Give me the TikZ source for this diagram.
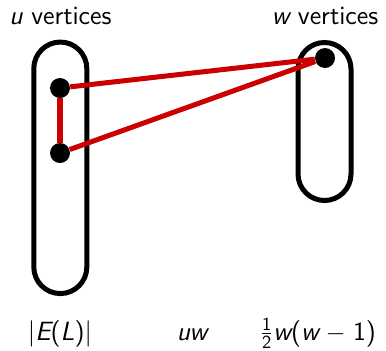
\documentclass[tikz,border=0pt]{standalone}
\usepackage{amsmath}
\usepackage{tikz}
\usetikzlibrary{positioning}
\definecolor{EdgeRed}{RGB}{204,0,0}
\newcommand{\mv}[1]{{\slshape #1}}
\tikzset{
  capsule/.style={draw=black,line width=2.85pt,rectangle,inner sep=0pt,
    minimum width=1.06cm,rounded corners=0.53cm},
  vdot/.style={circle,fill=black,inner sep=0pt,minimum size=0.4cm},
  edge/.style={EdgeRed,line width=2.85pt},
  lbl/.style={anchor=base,font=\sffamily\fontsize{15}{18}\selectfont}
}
\begin{document}
\begin{tikzpicture}
  \useasboundingbox (0,0) rectangle (7.72,7.0);
  % the two vertex sets
  \node[capsule,minimum height=5.03cm] (uset) at (1.206,3.644) {};
  \node[capsule,minimum height=3.16cm] (wset) at (6.49,4.57) {};
  \node[lbl] (ulbl) at (1.21,6.52) {\mv{u} vertices};
  \node[lbl] (wlbl) at (6.5,6.52) {\mv{w} vertices};

  % vertices
  \node[vdot] (u1) at (1.2,5.24) {};
  \node[vdot] (u2) at (1.2,3.94) {};
  \node[vdot] (w1) at (6.5,5.84) {};

  % edges
  \draw[edge] (u1) -- (w1);
  \draw[edge] (u2) -- (w1);
  \draw[edge] (u1) -- (u2);

  % counts
  \node[lbl] (cL) at (1.2,0.2) {|\mv{E}(\mv{L})|};
  \node[lbl] (cuw) at (3.84,0.2) {\mv{uw}};
  \node[lbl] (cww) at (6.36,0.2) {$\frac{\textsf{1}}{\textsf{2}}$\mv{w}(\mv{w}\hspace{0.28em}$-$\hspace{0.28em}1)};
\end{tikzpicture}
\end{document}
